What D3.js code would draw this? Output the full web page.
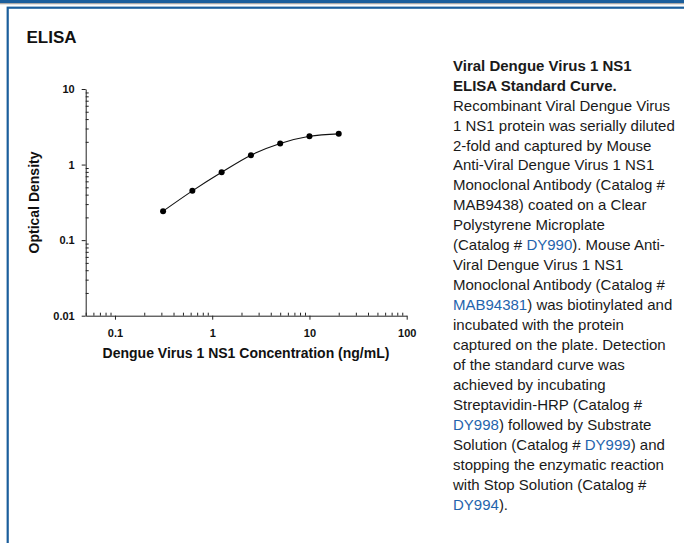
<!DOCTYPE html>
<html>
<head>
<meta charset="utf-8">
<script src="https://cdn.jsdelivr.net/npm/d3@7"></script>
<style>
  body { margin: 0; background: #fff; }
  svg { display: block; font-family: "Liberation Sans", Arial, sans-serif; }
</style>
</head>
<body>
<div id="chart"></div>
<script>
// standard curve, 2-fold dilutions (ng/mL) and optical density
const conc = [0.3125, 0.625, 1.25, 2.5, 5, 10, 20];
const od = [0.242, 0.449, 0.79, 1.33, 1.90, 2.37, 2.55];

const xTicks = [0.1, 1, 10, 100];
const xTickLabels = ["0.1", "1", "10", "100"];
const yTicks = [0.01, 0.1, 1, 10];
const yTickLabels = ["0.01", "0.1", "1", "10"];

// caption lines, segments flagged as links are blue
const caption = [
  [["Viral Dengue Virus 1 NS1", "b"]],
  [["ELISA Standard Curve.", "b"]],
  [["Recombinant Viral Dengue Virus"]],
  [["1 NS1 protein was serially diluted"]],
  [["2-fold and captured by Mouse"]],
  [["Anti-Viral Dengue Virus 1 NS1"]],
  [["Monoclonal Antibody (Catalog #"]],
  [["MAB9438) coated on a Clear"]],
  [["Polystyrene Microplate"]],
  [["(Catalog # "], ["DY990", "a"], ["). Mouse Anti-"]],
  [["Viral Dengue Virus 1 NS1"]],
  [["Monoclonal Antibody (Catalog #"]],
  [["MAB94381", "a"], [") was biotinylated and"]],
  [["incubated with the protein"]],
  [["captured on the plate. Detection"]],
  [["of the standard curve was"]],
  [["achieved by incubating"]],
  [["Streptavidin-HRP (Catalog #"]],
  [["DY998", "a"], [") followed by Substrate"]],
  [["Solution (Catalog # "], ["DY999", "a"], [") and"]],
  [["stopping the enzymatic reaction"]],
  [["with Stop Solution (Catalog #"]],
  [["DY994", "a"], [")."]]
];

const width = 684, height = 543;
const blue = "#1b5e9c";

const svg = d3.select("#chart").append("svg")
  .attr("width", width)
  .attr("height", height);

// page frame
svg.append("rect").attr("x", 0).attr("y", 0).attr("width", width).attr("height", 3).attr("fill", blue);
svg.append("rect").attr("x", 0).attr("y", 3).attr("width", width).attr("height", 1.3).attr("fill", "#a8a8a8");
svg.append("rect").attr("x", 7.7).attr("y", 7.7).attr("width", width + 20).attr("height", height + 20)
  .attr("fill", "none").attr("stroke", blue).attr("stroke-width", 2.2);

svg.append("text")
  .attr("x", 26.5).attr("y", 42.5)
  .attr("font-size", 17).attr("font-weight", "bold").attr("fill", "#111")
  .text("ELISA");

// scales
const x = d3.scaleLog().domain([0.05, 100]).range([85.7, 406.7]);
const y = d3.scaleLog().domain([0.01, 10]).range([315.7, 89]);

const xMinor = x.ticks().filter(t => !xTicks.some(m => Math.abs(m - t) < 1e-9));
const yMinor = y.ticks().filter(t => !yTicks.some(m => Math.abs(m - t) < 1e-9));

// minor ticks point into the plot
svg.append("g")
  .attr("transform", `translate(0,${y(0.01)})`)
  .call(d3.axisTop(x).tickValues(xMinor).tickSize(3).tickSizeOuter(0).tickFormat(""))
  .call(g => g.select(".domain").remove());
svg.append("g")
  .attr("transform", `translate(${x(0.05)},0)`)
  .call(d3.axisRight(y).tickValues(yMinor).tickSize(3).tickSizeOuter(0).tickFormat(""))
  .call(g => g.select(".domain").remove());

const xAxis = svg.append("g")
  .attr("transform", `translate(0,${y(0.01)})`)
  .call(d3.axisBottom(x).tickValues(xTicks).tickSize(4).tickSizeOuter(0).tickPadding(9.5)
    .tickFormat((d, i) => xTickLabels[i]));
const yAxis = svg.append("g")
  .attr("transform", `translate(${x(0.05)},0)`)
  .call(d3.axisLeft(y).tickValues(yTicks).tickSize(4).tickSizeOuter(0).tickPadding(7)
    .tickFormat((d, i) => yTickLabels[i]));

svg.selectAll(".tick line").attr("stroke", "#222");
svg.selectAll(".domain").attr("stroke", "#222");
[xAxis, yAxis].forEach(a => a.selectAll("text")
  .attr("font-family", "Liberation Sans, Arial, sans-serif")
  .attr("font-size", 11).attr("font-weight", "bold").attr("fill", "#111"));

// axis titles
svg.append("text")
  .attr("x", 246).attr("y", 357.5)
  .attr("text-anchor", "middle").attr("font-size", 14).attr("font-weight", "bold").attr("fill", "#111")
  .text("Dengue Virus 1 NS1 Concentration (ng/mL)");
svg.append("text")
  .attr("transform", "translate(38.5,202.5) rotate(-90)")
  .attr("text-anchor", "middle").attr("font-size", 14).attr("font-weight", "bold").attr("fill", "#111")
  .text("Optical Density");

// fitted curve and points
const pts = conc.map((c, i) => [c, od[i]]);
const line = d3.line()
  .x(d => x(d[0]))
  .y(d => y(d[1]))
  .curve(d3.curveMonotoneX);

svg.append("path")
  .datum(pts)
  .attr("d", line)
  .attr("fill", "none")
  .attr("stroke", "#111")
  .attr("stroke-width", 1.1);

svg.selectAll(".dot")
  .data(pts)
  .enter()
  .append("circle")
  .attr("class", "dot")
  .attr("cx", d => x(d[0]))
  .attr("cy", d => y(d[1]))
  .attr("r", 3)
  .attr("fill", "#000");

// caption
const cap = svg.append("text")
  .attr("font-size", 15)
  .attr("fill", "#1a1a1a");
caption.forEach((segs, i) => {
  segs.forEach((s, j) => {
    const t = cap.append("tspan").text(s[0]);
    if (j === 0) t.attr("x", 453).attr("y", 70.7 + i * 19.95);
    if (s[1] === "b") t.attr("font-weight", "bold");
    if (s[1] === "a") t.attr("fill", "#1f64ad");
  });
});
</script>
</body>
</html>
